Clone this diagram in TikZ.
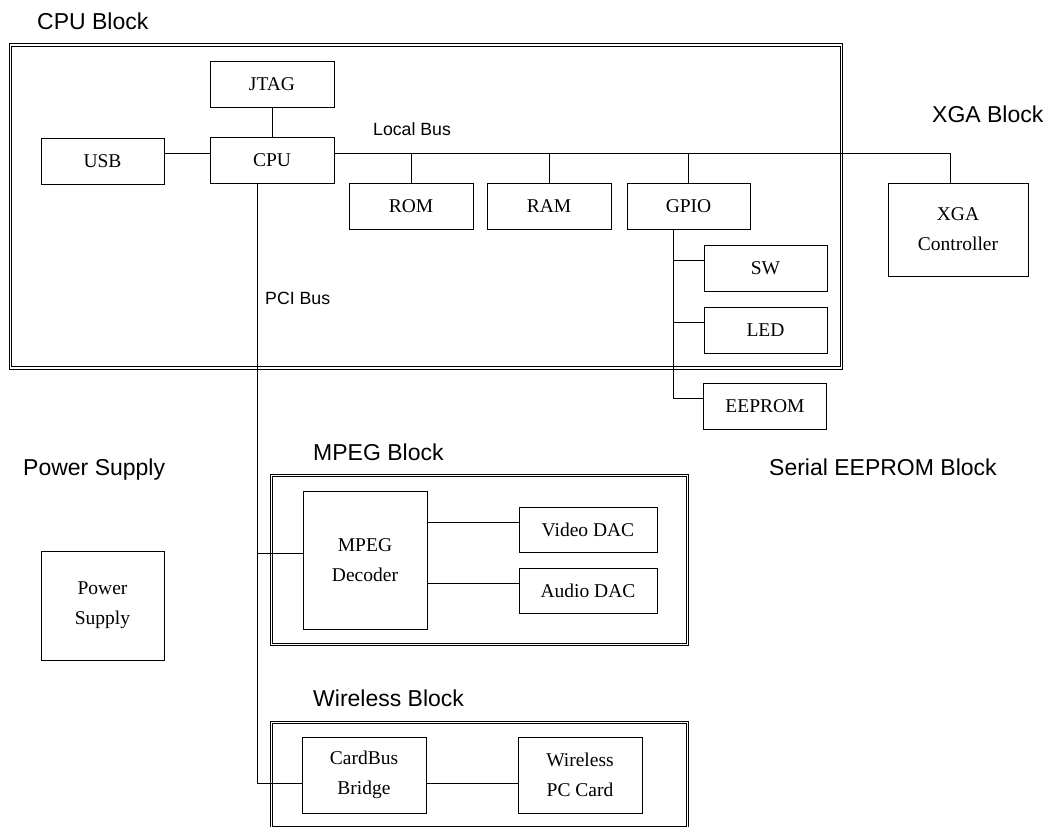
\documentclass[tikz,border=0pt]{standalone}
\usepackage{fontspec}
\setmainfont{Liberation Serif}
\newfontfamily\labelfont{Liberation Sans}

\begin{document}
\begin{tikzpicture}[x=1pt, y=-1pt,
  box/.style={draw, line width=0.9pt, inner sep=0pt, minimum width=124pt,
    minimum height=46pt, align=center, font=\fontsize{19.5}{30}\selectfont},
  blockline/.style={draw, line width=0.9pt},
  title/.style={anchor=base west, inner sep=0pt, font=\labelfont\fontsize{23}{27}\selectfont},
  buslabel/.style={anchor=base west, inner sep=0pt, font=\labelfont\fontsize{17.7}{21}\selectfont},
  wire/.style={line width=0.9pt}]
  \useasboundingbox (0,0) rectangle (1050,827);

  % Block frames (double lines)
  \draw[blockline] (9.3,43.5) rectangle (842.5,369);
  \draw[blockline] (11.8,46) rectangle (840,366.5);
  \draw[blockline] (270.3,474.3) rectangle (688.7,645.5);
  \draw[blockline] (272.8,476.8) rectangle (686.2,643);
  \draw[blockline] (270.3,721.3) rectangle (688.7,830);
  \draw[blockline] (272.8,723.8) rectangle (686.2,826);

  % Block titles
  \node[title] (tcpu) at (37,29.5) {CPU Block};
  \node[title] (txga) at (932,122) {XGA Block};
  \node[title] (tpow) at (23,475) {Power Supply};
  \node[title] (tmpeg) at (313,460) {MPEG Block};
  \node[title] (teep) at (769,475) {Serial EEPROM Block};
  \node[title] (twls) at (313,706) {Wireless Block};

  % CPU block
  \node[box] (jtag) at (272,84) {JTAG};
  \node[box, minimum width=123pt] (usb) at (102.5,161) {USB};
  \node[box] (cpu) at (272,160.5) {CPU};
  \node[box] (rom) at (411,206) {ROM};
  \node[box] (ram) at (549,206) {RAM};
  \node[box, minimum width=123pt] (gpio) at (688.5,206.5) {GPIO};
  \node[box, minimum width=123pt] (sw) at (765.5,268) {SW};
  \node[box, minimum width=123pt] (led) at (765.5,330) {LED};
  \node[box, minimum width=123pt] (eeprom) at (765,406) {EEPROM};

  % XGA block
  \node[box, minimum width=140pt, minimum height=93pt] (xga) at (958,229.5) {XGA\\Controller};

  % Power supply
  \node[box, minimum width=123pt, minimum height=109pt] (power) at (102.5,605.5) {Power\\Supply};

  % MPEG block
  \node[box, minimum height=138pt] (mpeg) at (365,560) {MPEG\\Decoder};
  \node[box, minimum width=138pt, minimum height=45pt] (vdac) at (588,529.5) {Video DAC};
  \node[box, minimum width=138pt, minimum height=45pt] (adac) at (588,590.5) {Audio DAC};

  % Wireless block
  \node[box, minimum height=76pt] (cardbus) at (364,775) {CardBus\\Bridge};
  \node[box, minimum height=76pt] (pccard) at (580,775) {Wireless\\PC Card};

  % Local bus
  \coordinate (lbus) at ([yshift=7.5pt]cpu.east);
  \coordinate (lend) at ([xshift=-8pt]xga.north);
  \draw[wire] (jtag) -- (cpu);
  \draw[wire] ([yshift=8pt]usb.east) -- ([yshift=8pt]usb.east -| cpu.west);
  \draw[wire] (lbus) -| (lend);
  \draw[wire] (lbus -| rom.north) -- (rom.north);
  \draw[wire] (lbus -| ram.north) -- (ram.north);
  \draw[wire] (lbus -| gpio.north) -- (gpio.north);
  \node[buslabel] (llocal) at (373,135) {Local Bus};

  % GPIO branches
  \coordinate (gp) at ([xshift=-15.5pt]gpio.south);
  \draw[wire] (gp) |- ([yshift=8pt]eeprom.west);
  \draw[wire] (gp |- sw.west) ++(0,-8) -- ([yshift=8pt]sw.west);
  \draw[wire] (gp |- led.west) ++(0,-8) -- ([yshift=8pt]led.west);

  % PCI bus
  \coordinate (pci) at ([xshift=-14.5pt]cpu.south);
  \draw[wire] (pci) |- ([yshift=-8pt]cardbus.west);
  \draw[wire] (pci |- mpeg.west) ++(0,-7) -- ([yshift=7pt]mpeg.west);
  \node[buslabel] (lpci) at (265,304) {PCI Bus};

  % MPEG and wireless links
  \draw[wire] ([yshift=7.5pt]vdac.west) -- ([yshift=7.5pt]vdac.west -| mpeg.east);
  \draw[wire] ([yshift=7.5pt]adac.west) -- ([yshift=7.5pt]adac.west -| mpeg.east);
  \draw[wire] ([yshift=-8pt]cardbus.east) -- ([yshift=-8pt]cardbus.east -| pccard.west);
\end{tikzpicture}
\end{document}
